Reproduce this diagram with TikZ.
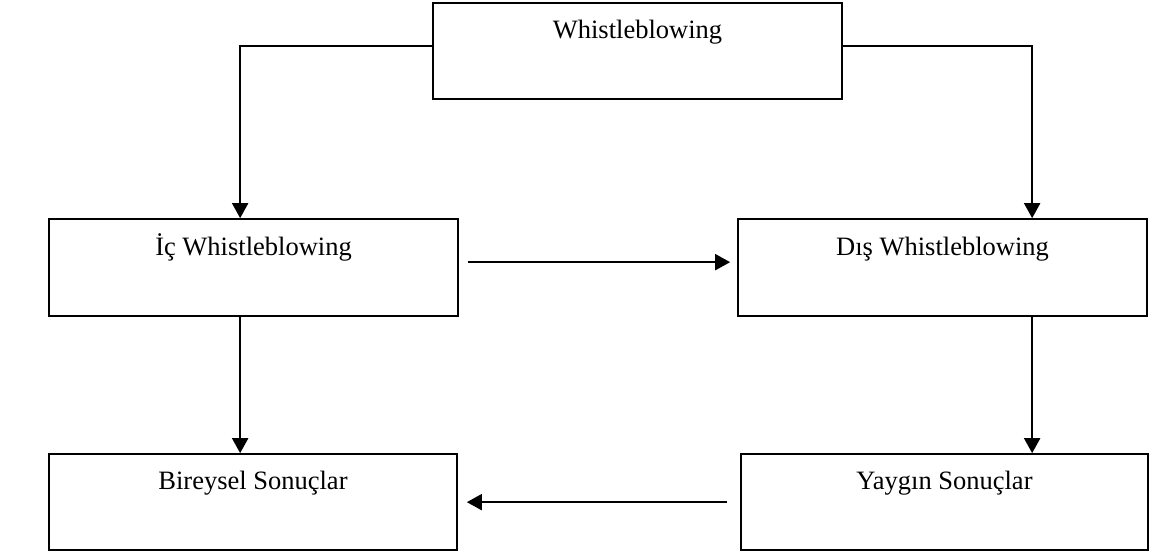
\documentclass[tikz,border=0pt]{standalone}
\usepackage{fontspec}
\setmainfont{Liberation Serif}
\usetikzlibrary{arrows.meta,calc}

\tikzset{
  box/.style={draw=black, line width=1.7pt, minimum width=409pt, inner sep=0pt},
  boxtext/.style={anchor=base, inner sep=0pt, font=\fontsize{26.5}{30}\selectfont},
  arr/.style={line width=2pt, -{Triangle[length=15pt,width=16pt]}}
}

\begin{document}
\begin{tikzpicture}[x=1pt, y=-1pt]
  \useasboundingbox (0,0) rectangle (1152,555);

  % boxes
  \node[box, minimum height=96pt] (top) at (637.5,51)  {};
  \node[box, minimum height=97pt] (ic)  at (253.5,267.5) {};
  \node[box, minimum height=97pt] (dis) at (942.5,267.5) {};
  \node[box, minimum height=96pt, minimum width=408pt] (bir) at (253,502) {};
  \node[box, minimum height=96pt, minimum width=407pt] (yay) at (944.5,502) {};

  % labels, set near the top edge of each box
  \node[boxtext] (ttop) at ($(top.north)+(0,36)$) {Whistleblowing};
  \node[boxtext] (tic)  at ($(ic.north)+(0,37)$)  {İç Whistleblowing};
  \node[boxtext] (tdis) at ($(dis.north)+(0,37)$) {Dış Whistleblowing};
  \node[boxtext] (tbir) at ($(bir.north)+(0,36)$) {Bireysel Sonuçlar};
  \node[boxtext] (tyay) at ($(yay.north)+(0,36)$) {Yaygın Sonuçlar};

  % connector anchor points
  \coordinate (icin)  at ($(ic.north west)+(192,0)$);
  \coordinate (disin) at ($(dis.north west)+(295,0)$);
  \coordinate (icout) at ($(ic.south west)+(192,0)$);
  \coordinate (disout) at ($(dis.south west)+(295,0)$);

  % connectors
  \draw[arr] ($(top.north west)+(0,44)$) -| (icin);
  \draw[arr] ($(top.north east)+(0,44)$) -| (disin);
  \draw[arr] ($(ic.north east)+(9,44)$) -- ($(dis.north west)+(-7,44)$);
  \draw[arr] (icout) -- (icout |- bir.north);
  \draw[arr] (disout) -- (disout |- yay.north);
  \draw[arr] ($(yay.north west)+(-13,49)$) -- ($(bir.north east)+(9,49)$);
\end{tikzpicture}
\end{document}
